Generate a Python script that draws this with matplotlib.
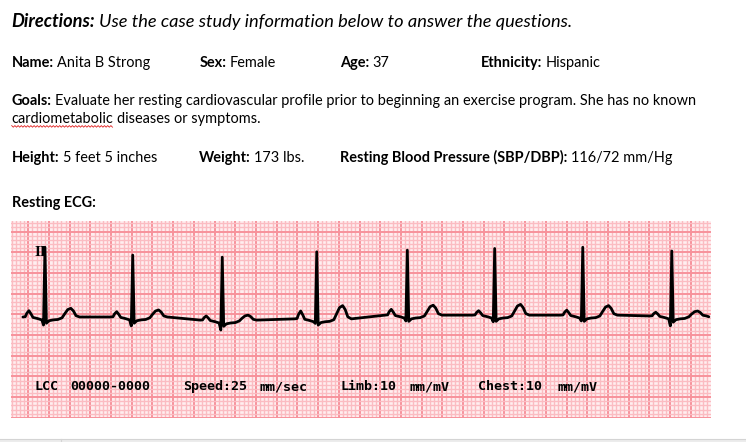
import numpy as np
import matplotlib
matplotlib.use("Agg")
import matplotlib.pyplot as plt
from matplotlib.lines import Line2D
from matplotlib.patches import Rectangle

# page size in pixels
W, H = 746, 442
DOC_FONT = ["Lato", "DejaVu Sans"]
STRIP_FONT = ["DejaVu Sans Mono"]

# --- case study text ---
directions = [("Directions:", "bold", "italic"),
              ("Use the case study information below to answer the questions.", "normal", "italic")]
row_patient = [("Name:", "Anita B Strong"), ("Sex:", "Female"), ("Age:", "37"), ("Ethnicity:", "Hispanic")]
row_patient_x = [11.7, 199.3, 340, 481.3]
goals_1 = "Evaluate her resting cardiovascular profile prior to beginning an exercise program. She has no known"
goals_2 = ["cardiometabolic", "diseases or symptoms."]
row_body = [("Height:", "5 feet 5 inches"), ("Weight:", "173 lbs."),
            ("Resting Blood Pressure (SBP/DBP):", "116/72 mm/Hg")]
row_body_x = [11.7, 199.3, 340]
ecg_heading = "Resting ECG:"

# --- ECG strip (25 mm/s, 10 mm/mV), values ---
r_time = [0.161, 1.009, 1.874, 2.787, 3.662, 4.506, 5.357, 6.217]     # s
r_amp = [1.62, 1.43, 1.38, 1.51, 1.55, 1.59, 1.62, 1.53]              # mV
q_amp = [-0.26, -0.28, -0.38, -0.22, -0.16, -0.18, -0.16, -0.28]
p_amp = [0.087, 0.063, -0.04, 0.08, 0.12, 0.087, 0.10, 0.05]
t_amp = [0.145, 0.105, -0.02, 0.21, 0.22, 0.24, 0.21, 0.08]
base_lvl = [-0.065, -0.065, -0.14, -0.11, -0.02, -0.02, -0.02, -0.04]
trace_end = (6.575, -0.06)
strip_labels = [(35, "LCC"), (70.7, "00000-0000"), (182.7, "Speed:25"), (259.3, "mm/sec"),
                (340, "Limb:10"), (409.7, "mm/mV"), (478, "Chest:10"), (558, "mm/mV")]


def beat(t, b, p, q, r, tw):
    # one PQRST complex, shape taken from the strip
    dp, dtw = p - b, tw - b
    dt = [-0.213, -0.19, -0.175, -0.155, -0.135, -0.116, -0.068, -0.030, -0.014, 0.0, 0.014,
          0.040, 0.080, 0.125, 0.165, 0.19, 0.22, 0.25, 0.275, 0.30, 0.335]
    dv = [b, b + 0.05 * dp, b + 0.6 * dp, p, b + 0.5 * dp, b - 0.01, b - 0.04, b - 0.07, q, r, b - 0.15,
          b - 0.09, b - 0.07, b - 0.06, b - 0.02, b + 0.35 * dtw, b + 0.85 * dtw, tw,
          b + 0.7 * dtw, b + 0.15 * dtw, b]
    return [t + d for d in dt], dv


fig = plt.figure(figsize=(W / 100, H / 100), dpi=100)
fig.patch.set_facecolor("white")
renderer = fig.canvas.get_renderer()


def fx(px):
    return px / W


def fy(py):
    return 1 - py / H


def write(x0, y0, parts, size, family=DOC_FONT):
    texts = []
    x = x0
    gap = size * 100 / 72 * 0.22
    for s, w, st in parts:
        t = fig.text(fx(x), fy(y0), s, fontsize=size, fontweight=w, fontstyle=st,
                     family=family, va="baseline", ha="left", color="black")
        bb = t.get_window_extent(renderer)
        texts.append(t)
        x = bb.x1 + gap
    return texts, x - gap - x0


def fit(parts, target, size0=10.0):
    texts, w = write(0, 600, parts, size0)
    for t in texts:
        t.remove()
    return size0 * target / w


body_size = fit([("Goals:", "bold", "normal"), (goals_1, "normal", "normal")], 683.6)
head_size = fit(directions, 558.3, 13.0)

write(11.7, 26.7, directions, head_size)
for x, (lab, val) in zip(row_patient_x, row_patient):
    write(x, 66.7, [(lab, "bold", "normal"), (val, "normal", "normal")], body_size)
write(11.7, 105, [("Goals:", "bold", "normal"), (goals_1, "normal", "normal")], body_size)
txt, _ = write(11.7, 123.3, [(goals_2[0], "normal", "normal"), (goals_2[1], "normal", "normal")], body_size)
# red spell-check squiggle under the first word
bb = txt[0].get_window_extent(renderer)
sx = np.arange(bb.x0, bb.x1, 1.6)
sy = np.where(np.arange(len(sx)) % 2 == 0, 125.6, 127.2)
fig.add_artist(Line2D(fx(sx), fy(sy), color="#e02020", lw=0.6, transform=fig.transFigure))
for x, (lab, val) in zip(row_body_x, row_body):
    write(x, 161.7, [(lab, "bold", "normal"), (val, "normal", "normal")], body_size)
write(11.7, 206.7, [(ecg_heading, "bold", "normal")], body_size)

# --- ECG paper ---
left, right, top, bottom = 11, 710.7, 221, 418.3
ax = fig.add_axes([fx(left), fy(bottom), (right - left) / W, (bottom - top) / H])
ax.set_xlim(-0.167, 6.593)
ax.set_ylim(-2.512, 2.254)
ax.set_facecolor("#ffeef0")
ax.set_xticks(np.arange(0, 6.6, 0.2))
ax.set_xticks(np.arange(-0.16, 6.6, 0.04), minor=True)
ax.set_yticks(np.arange(-2.5, 2.3, 0.5))
ax.set_yticks(np.arange(-2.5, 2.3, 0.1), minor=True)
ax.grid(which="minor", color="#fbbcc2", lw=1.0)
ax.grid(which="major", color="#f7929b", lw=1.4)
ax.tick_params(which="both", length=0, labelbottom=False, labelleft=False)
ax.set_axisbelow(True)
for s in ax.spines.values():
    s.set_visible(False)

ts, vs = [], []
for i in range(len(r_time)):
    bt, bv = beat(r_time[i], base_lvl[i], p_amp[i], q_amp[i], r_amp[i], t_amp[i])
    ts += bt
    vs += bv
ts.append(trace_end[0])
vs.append(trace_end[1])
ax.plot(ts, vs, color="black", lw=2.0, solid_joinstyle="round", solid_capstyle="round")
ax.text(0.062, 1.66, "II", fontsize=11, fontweight="bold", family=["Liberation Serif", "DejaVu Serif"],
        va="top", ha="left", color="black")

for x, s in strip_labels:
    fig.text(fx(x), fy(390), s, fontsize=9.6, fontweight="bold", family=STRIP_FONT,
             va="baseline", ha="left", color="black")

# window edge at the bottom of the screenshot
fig.add_artist(Rectangle((0, 0), 1, 3.5 / H, transform=fig.transFigure,
                         facecolor="#ececec", edgecolor="none"))
fig.add_artist(Line2D([0, 1], [fy(438.5), fy(438.5)], color="#d4d4d4", lw=0.8, transform=fig.transFigure))
fig.add_artist(Line2D([fx(61), fx(61)], [0, fy(438.5)], color="#d4d4d4", lw=0.8, transform=fig.transFigure))

fig.savefig("out.png", dpi=100)
